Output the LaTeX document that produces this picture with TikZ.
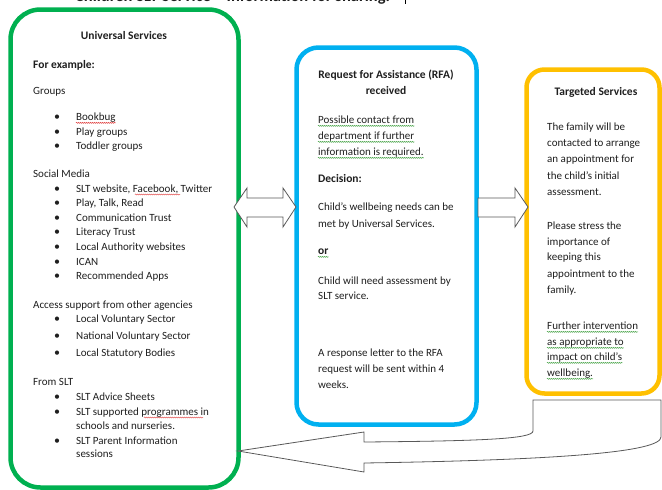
\documentclass[tikz,border=0pt]{standalone}
\usepackage{fontspec}
\setmainfont{Carlito}
\usetikzlibrary{decorations.pathmorphing}
\definecolor{ugreen}{HTML}{00B050}
\definecolor{ublue}{HTML}{00B0F0}
\definecolor{uorange}{HTML}{FFC000}
\definecolor{txtc}{HTML}{1F1F1F}
\definecolor{arrc}{HTML}{595959}
\definecolor{gramc}{HTML}{4CA64C}
\definecolor{spellc}{HTML}{E03C3C}
\newcommand\bl[3]{\node[bul] (b#1) at (57,#2) {•}; \node[txt] (t#1) at (76,#2) {#3};}
\newcommand\gu[1]{\draw[gram] ([yshift=-2.4pt]#1.base west) -- ([yshift=-2.4pt]#1.base east);}
\begin{document}
\begin{tikzpicture}[x=1pt,y=-1pt,
  box/.style={draw, line width=4.5pt, fill=white, inner sep=0pt, outer sep=0pt},
  txt/.style={anchor=mid west, inner sep=0pt, text=txtc, font=\fontsize{11}{13}\selectfont},
  btxt/.style={txt, font=\fontsize{11.5}{13}\selectfont\bfseries},
  hdr/.style={anchor=mid, inner sep=0pt, text=txtc, font=\fontsize{11.5}{13}\selectfont\bfseries},
  bul/.style={anchor=mid, inner sep=0pt, text=txtc, font=\fontsize{12}{13}\selectfont},
  blockarrow/.style={draw=arrc, line width=0.8pt, fill=white, line join=miter},
  gram/.style={draw=gramc, line width=0.5pt, decorate, decoration={snake, amplitude=0.5pt, segment length=2pt}},
  spell/.style={draw=spellc, line width=0.5pt, decorate, decoration={snake, amplitude=0.5pt, segment length=2pt}}
]
\useasboundingbox (0,0) rectangle (662,490);
\clip (0,0) rectangle (662,490);

% clipped title
\node[anchor=base west, inner sep=0pt, text=txtc, font=\fontsize{16.5}{18}\selectfont\bfseries] (title) at (75,1.8) {Children SLT Service – Information for sharing.};
\coordinate (curtop) at (405,0);
\coordinate (curbot) at (405,4);
\draw[black, line width=0.8pt] (curtop) -- (curbot);

% boxes
\node[box, draw=ugreen, rounded corners=30pt, minimum width=228pt, minimum height=478pt] (uni) at (124.5,248.5) {};
\node[box, draw=ublue, rounded corners=22pt, minimum width=180pt, minimum height=377pt] (rfa) at (386.5,236) {};
\node[box, draw=uorange, rounded corners=18pt, minimum width=133pt, minimum height=324pt] (tgt) at (593,231.5) {};

% Universal services text
\node[hdr] (uh) at (124,37) {Universal Services};
\node[btxt] (ufe) at (33,66) {For example:};
\node[txt] (ugr) at (33,92) {Groups};
\bl{1}{118}{Bookbug}
\bl{2}{133}{Play groups}
\bl{3}{147}{Toddler groups}
\node[txt] (usm) at (33,175) {Social Media};
\bl{4}{190}{SLT website, Facebook, Twitter}
\bl{5}{204}{Play, Talk, Read}
\bl{6}{219}{Communication Trust}
\bl{7}{233}{Literacy Trust}
\bl{8}{248}{Local Authority websites}
\bl{9}{263}{ICAN}
\bl{10}{277}{Recommended Apps}
\node[txt] (uas) at (33,306) {Access support from other agencies};
\bl{11}{320}{Local Voluntary Sector}
\bl{12}{337}{National Voluntary Sector}
\bl{13}{354}{Local Statutory Bodies}
\node[txt] (ufs) at (33,383) {From SLT};
\bl{14}{398}{SLT Advice Sheets}
\bl{15}{413}{SLT supported programmes in}
\node[txt] (t15b) at (76,427) {schools and nurseries.};
\bl{16}{442}{SLT Parent Information}
\node[txt] (t16b) at (76,455) {sessions};
\draw[spell] ([yshift=-2.4pt]t1.base west) -- ([yshift=-2.4pt]t1.base east);
\coordinate (fb1) at (135,194.5);
\coordinate (fb2) at (180,194.5);
\draw[spell] (fb1) -- (fb2);
\coordinate (pr1) at (144,417.5);
\coordinate (pr2) at (203,417.5);
\draw[spell] (pr1) -- (pr2);

% RFA text
\node[hdr] (rh1) at (386,76) {Request for Assistance (RFA)};
\node[hdr] (rh2) at (386,92) {received};
\node[txt] (r1) at (318,121) {Possible contact from};
\node[txt] (r2) at (318,137) {department if further};
\node[txt] (r3) at (318,153) {information is required.};
\gu{r1}\gu{r2}\gu{r3}
\node[btxt] (rd) at (318,180) {Decision:};
\node[txt] (r4) at (318,208) {Child’s wellbeing needs can be};
\node[txt] (r5) at (318,225) {met by Universal Services.};
\node[btxt] (ror) at (318,252) {or};
\gu{ror}
\node[txt] (r6) at (318,282) {Child will need assessment by};
\node[txt] (r7) at (318,297) {SLT service.};
\node[txt] (r8) at (318,354) {A response letter to the RFA};
\node[txt] (r9) at (318,370) {request will be sent within 4};
\node[txt] (r10) at (318,386) {weeks.};

% Targeted text
\node[hdr] (th) at (596,93) {Targeted Services};
\node[txt] (g1) at (547,128) {The family will be};
\node[txt] (g2) at (547,144) {contacted to arrange};
\node[txt] (g3) at (547,160) {an appointment for};
\node[txt] (g4) at (547,177) {the child’s initial};
\node[txt] (g5) at (547,193) {assessment.};
\node[txt] (g6) at (547,227) {Please stress the};
\node[txt] (g7) at (547,243) {importance of};
\node[txt] (g8) at (547,258) {keeping this};
\node[txt] (g9) at (547,275) {appointment to the};
\node[txt] (g10) at (547,291) {family.};
\node[txt] (g11) at (547,327) {Further intervention};
\node[txt] (g12) at (547,343) {as appropriate to};
\node[txt] (g13) at (547,358) {impact on child’s};
\node[txt] (g14) at (547,374) {wellbeing.};
\gu{g11}\gu{g12}\gu{g13}\gu{g14}

% block arrows
\draw[blockarrow] (234,207) -- (247,188) -- (247,198) -- (283,198) -- (283,188) -- (296,207)
  -- (283,227) -- (283,217) -- (247,217) -- (247,227) -- cycle;
\draw[blockarrow] (478,198) -- (515,198) -- (515,188) -- (528,207) -- (515,227) -- (515,217) -- (478,217) -- cycle;
\draw[blockarrow] (238,451) -- (364,432) -- (364,442) .. controls (480,441) and (533,439) .. (533,431)
  -- (533,400) -- (661,400) -- (661,437) .. controls (661,452) and (560,460) .. (364,463)
  -- (364,472) -- cycle;
\end{tikzpicture}
\end{document}
